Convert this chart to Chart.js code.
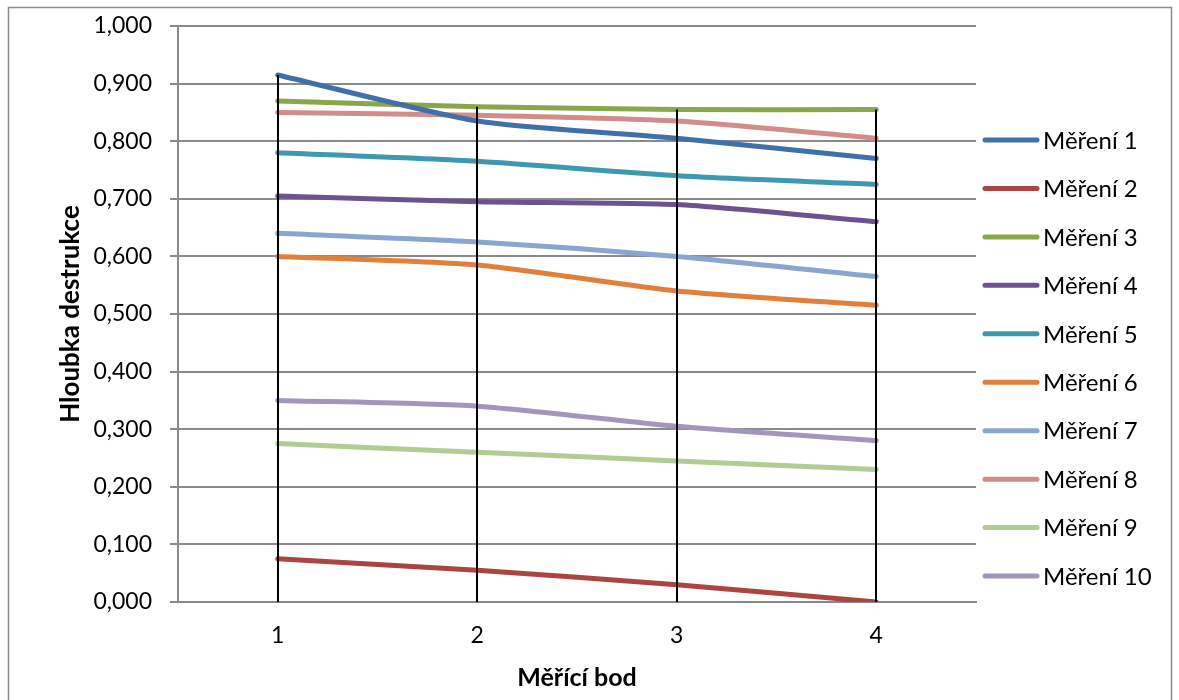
<!DOCTYPE html>
<html>
<head>
<meta charset="utf-8">
<script src="https://cdn.jsdelivr.net/npm/chart.js@4/dist/chart.umd.min.js"></script>
<style>
  html, body { margin: 0; padding: 0; background: #ffffff; }
  #wrap { width: 1179px; height: 700px; position: relative; }
</style>
</head>
<body>
<div id="wrap"><canvas id="c" width="1179" height="700"></canvas></div>
<script>
// ---- data ----
const categories = ['1', '2', '3', '4'];
const seriesNames = ['Měření 1', 'Měření 2', 'Měření 3', 'Měření 4', 'Měření 5',
                     'Měření 6', 'Měření 7', 'Měření 8', 'Měření 9', 'Měření 10'];
const mereni1  = [0.915, 0.835, 0.805, 0.770];
const mereni2  = [0.075, 0.055, 0.030, 0.000];
const mereni3  = [0.870, 0.860, 0.855, 0.855];
const mereni4  = [0.705, 0.695, 0.690, 0.660];
const mereni5  = [0.780, 0.765, 0.740, 0.725];
const mereni6  = [0.600, 0.585, 0.540, 0.515];
const mereni7  = [0.640, 0.625, 0.600, 0.565];
const mereni8  = [0.850, 0.845, 0.835, 0.805];
const mereni9  = [0.275, 0.260, 0.245, 0.230];
const mereni10 = [0.350, 0.340, 0.305, 0.280];
const yTickLabels = ['0,000', '0,100', '0,200', '0,300', '0,400', '0,500',
                     '0,600', '0,700', '0,800', '0,900', '1,000'];
const xTitle = 'Měřící bod';
const yTitle = 'Hloubka destrukce';

// ---- styles ----
const seriesValues = [mereni1, mereni2, mereni3, mereni4, mereni5, mereni6, mereni7, mereni8, mereni9, mereni10];
const colors = ['#4070aa', '#ac4442', '#89a64a', '#6d5290', '#3e98b2',
                '#e0803a', '#8aa6cf', '#d28d8b', '#b3cc94', '#a495bd'];
const FONT = 'Lato';

const datasets = seriesValues.map((vals, i) => ({
  label: seriesNames[i],
  data: vals,
  borderColor: colors[i],
  backgroundColor: colors[i],
  borderWidth: 5,
  pointRadius: 0,
  pointHoverRadius: 0,
  tension: 0.22,
  borderCapStyle: 'round',
  borderJoinStyle: 'round',
  fill: false
}));

const frame = {
  id: 'frame',
  beforeDraw(chart) {
    const ctx = chart.ctx;
    ctx.save();
    ctx.fillStyle = '#ffffff';
    ctx.fillRect(0, 0, chart.width, chart.height);
    ctx.strokeStyle = '#8a8a8a';
    ctx.lineWidth = 1.5;
    ctx.strokeRect(8.5, 7.5, 1163, 720);
    ctx.restore();
  }
};

const dropLines = {
  id: 'dropLines',
  afterDatasetsDraw(chart) {
    const xs = chart.scales.x, ys = chart.scales.y, ctx = chart.ctx;
    ctx.save();
    ctx.strokeStyle = '#000000';
    ctx.lineWidth = 2;
    categories.forEach((c, i) => {
      const top = Math.max(...seriesValues.map(v => v[i]));
      const x = Math.round(xs.getPixelForValue(i));
      ctx.beginPath();
      ctx.moveTo(x, ys.getPixelForValue(top));
      ctx.lineTo(x, ys.getPixelForValue(0));
      ctx.stroke();
    });
    ctx.restore();
  }
};

const sideLegend = {
  id: 'sideLegend',
  afterDraw(chart) {
    const ctx = chart.ctx;
    ctx.save();
    ctx.font = '24px ' + FONT;
    ctx.textBaseline = 'middle';
    ctx.textAlign = 'left';
    chart.data.datasets.forEach((ds, i) => {
      const y = 140 + i * 48.45;
      ctx.strokeStyle = ds.borderColor;
      ctx.lineWidth = 5;
      ctx.lineCap = 'round';
      ctx.beginPath();
      ctx.moveTo(985, y);
      ctx.lineTo(1037, y);
      ctx.stroke();
      ctx.fillStyle = '#000000';
      ctx.fillText(ds.label, 1043, y + 1);
    });
    ctx.restore();
  }
};

new Chart(document.getElementById('c'), {
  type: 'line',
  data: { labels: categories, datasets },
  options: {
    responsive: false,
    animation: false,
    events: [],
    layout: { padding: { left: 50, right: 203, top: 26, bottom: 0 } },
    plugins: {
      legend: { display: false },
      tooltip: { enabled: false }
    },
    scales: {
      x: {
        offset: true,
        grid: { display: false, drawTicks: false },
        border: { display: true, color: '#8a8a8a', width: 2 },
        ticks: { color: '#000', font: { family: FONT, size: 23 }, padding: 20 },
        title: { display: true, text: xTitle, color: '#000',
                 font: { family: FONT, size: 25, weight: 'bold' }, padding: { top: 10, bottom: 7 } },
        afterFit(s) { s.height = 98; s.paddingLeft = 0; s.paddingRight = 0; }
      },
      y: {
        min: 0, max: 1,
        ticks: { stepSize: 0.1, color: '#000', font: { family: FONT, size: 23 }, padding: 18,
                 callback: (v, i) => yTickLabels[i] },
        grid: { color: '#8a8a8a', lineWidth: 2, tickLength: 8, drawTicks: true },
        border: { display: true, color: '#8a8a8a', width: 2 },
        title: { display: true, text: yTitle, color: '#000',
                 font: { family: FONT, size: 26, weight: 'bold' }, padding: { top: 5, bottom: 4 } },
        afterFit(s) { s.width = 128; s.paddingTop = 0; s.paddingBottom = 0; }
      }
    }
  },
  plugins: [frame, dropLines, sideLegend]
});
</script>
</body>
</html>
